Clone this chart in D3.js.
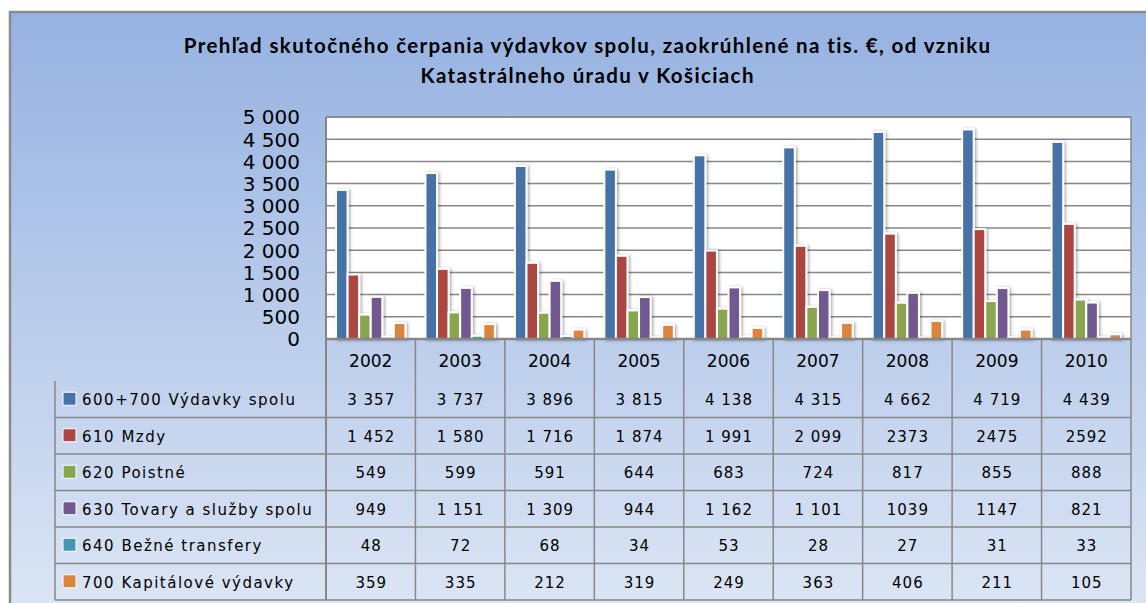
<!DOCTYPE html>
<html><head><meta charset="utf-8">
<script src="https://cdn.jsdelivr.net/npm/d3@7"></script>
<style>html,body{margin:0;padding:0;background:#fff;}svg{display:block;}</style>
</head><body>
<svg id="chart" width="1146" height="603"></svg>
<script>
const titleLines = ["Prehľad skutočného čerpania výdavkov spolu, zaokrúhlené na tis. €, od vzniku", "Katastrálneho úradu v Košiciach"];
const years = ["2002","2003","2004","2005","2006","2007","2008","2009","2010"];
const seriesNames = ["600+700 Výdavky spolu","610 Mzdy","620 Poistné","630 Tovary a služby spolu","640 Bežné transfery","700 Kapitálové výdavky"];
const seriesColors = ["#4572A7","#AA4643","#89A54E","#71588F","#4198AF","#DB843D"];
const vydavkySpolu = [3357,3737,3896,3815,4138,4315,4662,4719,4439];
const mzdy = [1452,1580,1716,1874,1991,2099,2373,2475,2592];
const poistne = [549,599,591,644,683,724,817,855,888];
const tovarySluzby = [949,1151,1309,944,1162,1101,1039,1147,821];
const bezneTransfery = [48,72,68,34,53,28,27,31,33];
const kapitaloveVydavky = [359,335,212,319,249,363,406,211,105];
const seriesValues = [vydavkySpolu, mzdy, poistne, tovarySluzby, bezneTransfery, kapitaloveVydavky];
// cells shown in the table without a thousands separator [series index, year index]
const ungroupedCells = [[1,6],[1,7],[1,8],[3,6],[3,7]];
const yTicks = [0,500,1000,1500,2000,2500,3000,3500,4000,4500,5000];

const svg = d3.select("#chart");
const fmtG = d3.formatLocale({decimal:",", thousands:" ", grouping:[3], currency:["","€"]}).format(",d");
const fmtT = d3.format("d");

const defs = svg.append("defs");
const grad = defs.append("linearGradient").attr("id","bg").attr("x1",0).attr("y1",0).attr("x2",0).attr("y2",1);
grad.append("stop").attr("offset","0%").attr("stop-color","#96B2E1");
grad.append("stop").attr("offset","100%").attr("stop-color","#DEE7F5");
const f = defs.append("filter").attr("id","sh").attr("x","-50%").attr("y","-10%").attr("width","200%").attr("height","120%");
f.append("feDropShadow").attr("dx",1.5).attr("dy",0.5).attr("stdDeviation",1.6).attr("flood-color","#000").attr("flood-opacity",0.35);

// outer chart frame
svg.append("rect").attr("x",10).attr("y",12).attr("width",1160).attr("height",620)
  .attr("fill","url(#bg)").attr("stroke","#8a8a8a").attr("stroke-width",2.5);

const L = 326, R = 1131, T = 117, B = 339, tableTop = 381, tableBottom = 600, legendLeft = 55;

const x = d3.scaleBand().domain(years).range([L, R]).paddingInner(0).paddingOuter(0);
const bw = x.bandwidth();
const xs = d3.scaleBand().domain(seriesNames).range([bw*0.112, bw*0.888]);
const y = d3.scaleLinear().domain([0,5000]).range([B, T]);
const rowScale = d3.scaleBand().domain(seriesNames).range([tableTop, tableBottom]);

// plot area
svg.append("rect").attr("x",L).attr("y",T).attr("width",R-L).attr("height",B-T).attr("fill","#fff");

// gridlines
svg.append("g").selectAll("line").data(yTicks).join("line")
  .attr("x1",L).attr("x2",R).attr("y1",d=>y(d)).attr("y2",d=>y(d))
  .attr("stroke","#878787").attr("stroke-width",1.5);

// y axis labels
svg.append("g").selectAll("text").data(yTicks).join("text")
  .attr("x",300).attr("y",d=>y(d)+7.3).attr("text-anchor","end")
  .attr("font-family","DejaVu Sans").attr("font-size",20).attr("fill","#000")
  .text(d=>fmtG(d));

// bars
const bars = svg.append("g").attr("filter","url(#sh)");
seriesNames.forEach((s,si)=>{
  bars.append("g").selectAll("rect").data(seriesValues[si]).join("rect")
    .attr("x",(d,i)=>x(years[i])+xs(s))
    .attr("width",xs.bandwidth())
    .attr("y",d=>y(d))
    .attr("height",d=>B-y(d))
    .attr("fill",seriesColors[si])
    .attr("stroke","#fff").attr("stroke-width",2);
});

// table lines
const lines = svg.append("g").attr("stroke","#878787").attr("stroke-width",1.5);
lines.append("line").attr("x1",L).attr("x2",R).attr("y1",B).attr("y2",B).attr("stroke-width",2.5);
lines.append("line").attr("x1",L).attr("x2",R).attr("y1",T).attr("y2",T);
lines.append("line").attr("x1",L).attr("x2",L).attr("y1",T).attr("y2",tableBottom).attr("stroke-width",2);
lines.append("line").attr("x1",R).attr("x2",R).attr("y1",T).attr("y2",tableBottom);
lines.selectAll(".vc").data(years.slice(1)).join("line")
  .attr("x1",d=>x(d)).attr("x2",d=>x(d)).attr("y1",B).attr("y2",tableBottom);
lines.append("line").attr("x1",legendLeft).attr("x2",legendLeft).attr("y1",tableTop).attr("y2",tableBottom);
lines.selectAll(".hr").data(seriesNames).join("line")
  .attr("x1",legendLeft).attr("x2",R)
  .attr("y1",d=>rowScale(d)+rowScale.bandwidth()).attr("y2",d=>rowScale(d)+rowScale.bandwidth());

// year labels
svg.append("g").selectAll("text").data(years).join("text")
  .attr("x",d=>x(d)+bw/2).attr("y",366.5).attr("text-anchor","middle")
  .attr("font-family","DejaVu Sans").attr("font-size",17).attr("fill","#000").text(d=>d);

// legend keys and names
const rows = svg.append("g").selectAll("g").data(seriesNames).join("g")
  .attr("transform",d=>`translate(0,${rowScale(d)+rowScale.bandwidth()/2})`);
rows.append("rect").attr("x",63).attr("y",-7).attr("width",13).attr("height",13)
  .attr("fill",(d,i)=>seriesColors[i]).attr("stroke","#fff").attr("stroke-width",1);
rows.append("text").attr("x",82).attr("y",6).attr("font-family","DejaVu Sans").attr("font-size",15)
  .attr("letter-spacing",1.5).attr("fill","#000").text(d=>d);

// values
seriesNames.forEach((s,si)=>{
  svg.append("g").selectAll("text").data(seriesValues[si]).join("text")
    .attr("x",(d,i)=>x(years[i])+bw/2+0.5)
    .attr("y",rowScale(s)+rowScale.bandwidth()/2+6)
    .attr("text-anchor","middle").attr("font-family","DejaVu Sans").attr("font-size",15)
    .attr("letter-spacing",1).attr("fill","#000")
    .text((d,i)=>ungroupedCells.some(c=>c[0]===si&&c[1]===i) ? fmtT(d) : fmtG(d));
});

// title
const tl = svg.append("g").selectAll("text").data(titleLines).join("text")
  .attr("x",587).attr("y",(d,i)=>53+i*30).attr("text-anchor","middle")
  .attr("font-family","Lato").attr("font-weight","bold").attr("font-size",20.5).attr("fill","#000")
  .text(d=>d);
const first = tl.nodes()[0];
const w0 = first.getComputedTextLength();
const ls = Math.max(0, Math.min(2.5, (808 - w0) / titleLines[0].length));
tl.attr("letter-spacing", ls).attr("x", 587 + ls/2);
</script>
</body></html>
